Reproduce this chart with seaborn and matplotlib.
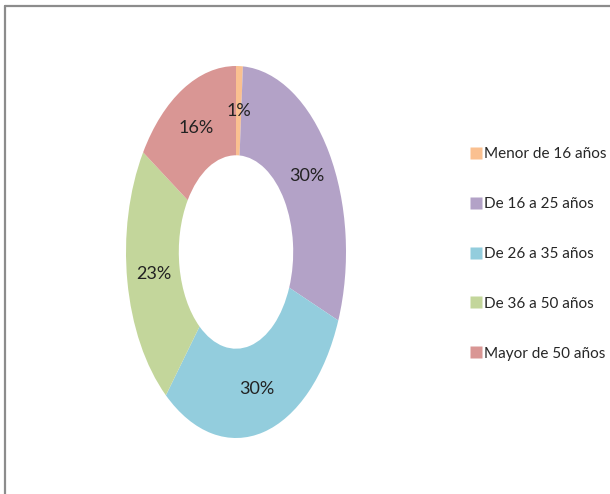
import matplotlib
matplotlib.use("Agg")
import matplotlib.pyplot as plt
from matplotlib.lines import Line2D
import seaborn as sns

labels = ["Menor de 16 años", "De 16 a 25 años", "De 26 a 35 años",
          "De 36 a 50 años", "Mayor de 50 años"]
values = [1, 30, 30, 23, 16]
colors = ["#FAC090", "#B3A2C7", "#93CDDD", "#C3D69B", "#D99694"]

sns.set_style("white")
plt.rcParams['font.family'] = ['Lato', 'DejaVu Sans']
palette = sns.color_palette(colors)

fig = plt.figure(figsize=(6.1, 4.94), dpi=100)
ax = fig.add_axes([126 / 610, 56 / 494, 220 / 610, 372 / 494])

wedges, texts, autotexts = ax.pie(
    values, colors=palette, startangle=90, counterclock=False,
    radius=1.0, wedgeprops=dict(width=0.48, linewidth=0),
    autopct='%1.0f%%', pctdistance=0.76,
    textprops=dict(fontsize=13, color="#222222"))
ax.set_xlim(-1, 1)
ax.set_ylim(-1, 1)
ax.set_aspect('auto')
ax.axis('off')

handles = [Line2D([], [], marker='s', linestyle='none', markersize=9,
                  markerfacecolor=c, markeredgecolor='none') for c in palette]
fig.legend(handles, labels, loc='upper left', bbox_to_anchor=(465 / 610, 1 - 141 / 494),
           frameon=False, fontsize=11, handlelength=0.6, handletextpad=0.25,
           labelspacing=2.35, borderaxespad=0)

# outer frame (only top and left edges visible)
fig.add_artist(Line2D([5 / 610, 1], [1 - 6 / 494, 1 - 6 / 494], transform=fig.transFigure,
                      color="#8c8c8c", linewidth=1.6))
fig.add_artist(Line2D([5 / 610, 5 / 610], [0, 1 - 6 / 494], transform=fig.transFigure,
                      color="#8c8c8c", linewidth=1.6))

fig.savefig("out.png", dpi=100)
